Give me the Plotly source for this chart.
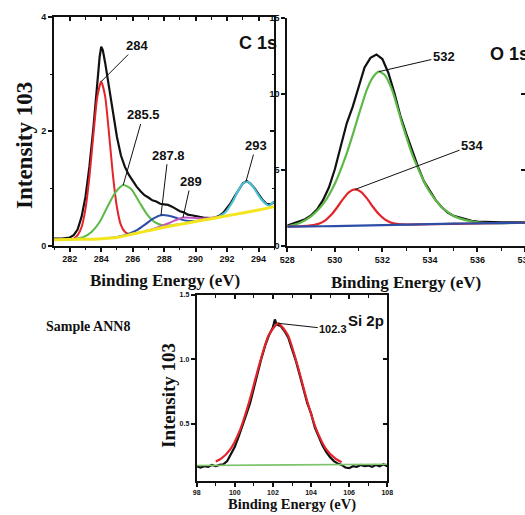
import plotly.graph_objects as go

# ---------------- C 1s ----------------
c1s_E = [281.0, 281.5, 282.0, 282.25, 282.5, 282.75, 283.0, 283.25, 283.5, 283.75, 283.9, 284.0, 284.1,
         284.25, 284.5, 284.75, 285.0, 285.25, 285.5, 285.75, 286.0, 286.25, 286.5, 286.75, 287.0,
         287.25, 287.5, 287.75, 288.0, 288.25, 288.5, 288.75, 289.0, 289.25, 289.5, 289.75, 290.0,
         290.25, 290.5, 290.75, 291.0, 291.25, 291.5, 291.75, 292.0, 292.25, 292.5, 292.75, 293.0,
         293.25, 293.5, 293.75, 294.0, 294.25, 294.5, 294.75, 295.0]
c1s_I = [0.12, 0.12, 0.14, 0.18, 0.28, 0.50, 0.85, 1.38, 2.05, 2.85, 3.30, 3.48, 3.42,
         3.20, 2.75, 2.30, 1.90, 1.58, 1.38, 1.24, 1.13, 1.03, 0.95, 0.88, 0.84,
         0.79, 0.77, 0.73, 0.72, 0.71, 0.68, 0.64, 0.60, 0.58, 0.54, 0.53, 0.51,
         0.50, 0.49, 0.48, 0.48, 0.49, 0.52, 0.57, 0.65, 0.75, 0.87, 0.99, 1.09,
         1.13, 1.08, 1.00, 0.90, 0.80, 0.73, 0.72, 0.76]

c1s_red_E = [281.5, 282.0, 282.25, 282.5, 282.75, 283.0, 283.25, 283.5, 283.75, 284.0, 284.25, 284.5,
             284.75, 285.0, 285.25, 285.5, 285.75, 286.0, 286.5]
c1s_red_I = [0.10, 0.11, 0.12, 0.18, 0.32, 0.64, 1.20, 1.93, 2.60, 2.87, 2.61, 1.95,
             1.22, 0.67, 0.36, 0.24, 0.20, 0.20, 0.23]

c1s_green_E = [282.0, 282.4, 282.9, 283.4, 283.9, 284.4, 284.9, 285.4, 285.9, 286.4, 286.9, 287.4,
               287.9, 288.4, 288.9]
c1s_green_I = [0.11, 0.12, 0.15, 0.24, 0.41, 0.68, 0.93, 1.06, 0.99, 0.77, 0.55, 0.41,
               0.355, 0.35, 0.37]

c1s_blue_E = [284.3, 284.8, 285.3, 285.8, 286.3, 286.8, 287.3, 287.8, 288.3, 288.8, 289.3, 289.8,
              290.3, 290.8]
c1s_blue_I = [0.125, 0.14, 0.165, 0.21, 0.275, 0.37, 0.47, 0.53, 0.52, 0.48, 0.44, 0.43,
              0.44, 0.46]

c1s_mag_E = [286.8, 287.2, 287.7, 288.2, 288.7, 289.2, 289.7, 290.2, 290.7, 291.2, 291.7]
c1s_mag_I = [0.25, 0.28, 0.33, 0.38, 0.44, 0.49, 0.485, 0.475, 0.475, 0.49, 0.51]

c1s_cyan_E = [291.45, 291.7, 291.95, 292.2, 292.45, 292.7, 292.95, 293.2, 293.45, 293.7, 293.95,
              294.2, 294.45, 294.7, 294.85, 294.95]
c1s_cyan_I = [0.50, 0.54, 0.60, 0.70, 0.82, 0.96, 1.07, 1.12, 1.09, 1.01, 0.90,
              0.80, 0.73, 0.70, 0.74, 0.77]

c1s_base_E = [281, 282, 283, 284, 285, 286, 287, 288, 289, 290, 291, 292, 293, 294, 295]
c1s_base_I = [0.10, 0.105, 0.11, 0.12, 0.14, 0.20, 0.26, 0.32, 0.37, 0.42, 0.47, 0.52, 0.57, 0.62, 0.68]

c1s_labels = ["284", "285.5", "287.8", "289", "293"]

# ---------------- O 1s ----------------
o1s_E = [528.0, 528.25, 528.5, 528.75, 529.0, 529.25, 529.5, 529.75, 530.0, 530.25, 530.5, 530.75,
         531.0, 531.25, 531.5, 531.75, 532.0, 532.25, 532.5, 532.75, 533.0, 533.25, 533.5, 533.75,
         534.0, 534.25, 534.5, 534.75, 535.0, 535.25, 535.5, 535.75, 536.0, 536.5, 537.0, 537.5, 538.0]
o1s_I = [1.35, 1.49, 1.58, 1.76, 2.02, 2.40, 3.02, 3.85, 5.05, 6.55, 8.07, 9.15,
         10.4, 11.75, 12.38, 12.6, 12.3, 11.4, 10.1, 8.6, 7.41, 6.25, 5.2, 4.25,
         3.6, 3.0, 2.55, 2.2, 1.98, 1.86, 1.78, 1.66, 1.60, 1.56, 1.55, 1.55, 1.55]

o1s_green_E = [528.0, 528.5, 529.0, 529.5, 530.0, 530.5, 530.77, 531.0, 531.34, 531.6, 531.85, 532.1,
               532.4, 532.87, 533.29, 533.86, 534.2, 534.55, 535.0, 535.5, 536.0, 536.5, 537.0, 538.0]
o1s_green_I = [1.30, 1.50, 1.95, 2.75, 4.10, 6.10, 7.41, 8.60, 10.26, 11.10, 11.47, 11.25,
               10.30, 7.85, 5.88, 3.90, 3.10, 2.48, 1.98, 1.70, 1.55, 1.50, 1.50, 1.53]

o1s_red_E = [528.0, 528.6, 528.85, 529.1, 529.35, 529.6, 529.85, 530.1, 530.35, 530.6, 530.85, 531.1,
             531.35, 531.6, 531.85, 532.1, 532.35, 532.6, 532.85, 533.1, 534.0, 536.0, 538.0]
o1s_red_I = [1.27, 1.30, 1.32, 1.37, 1.48, 1.69, 2.05, 2.55, 3.10, 3.55, 3.72, 3.56,
             3.13, 2.58, 2.10, 1.75, 1.55, 1.45, 1.42, 1.41, 1.43, 1.48, 1.53]

o1s_base_E = [528, 529, 530, 531, 532, 533, 534, 535, 536, 537, 538]
o1s_base_I = [1.27, 1.29, 1.31, 1.34, 1.37, 1.40, 1.44, 1.47, 1.49, 1.51, 1.53]

o1s_labels = ["532", "534"]

# ---------------- Si 2p ----------------
si_E = [98.0, 98.2, 98.4, 98.6, 98.8, 99.0, 99.2, 99.4, 99.6, 99.8, 100.0, 100.2, 100.4, 100.6,
        100.8, 101.0, 101.2, 101.4, 101.6, 101.8, 102.0, 102.1, 102.2, 102.4, 102.6, 102.8, 103.0,
        103.2, 103.4, 103.6, 103.8, 104.0, 104.2, 104.4, 104.6, 104.8, 105.0, 105.2, 105.4, 105.6,
        105.8, 106.0, 106.2, 106.4, 106.6, 106.8, 107.0, 107.2, 107.4, 107.6, 107.8, 108.0]
si_I = [0.17, 0.16, 0.17, 0.165, 0.18, 0.17, 0.18, 0.185, 0.21, 0.26, 0.32, 0.40, 0.48, 0.57,
        0.66, 0.78, 0.90, 1.01, 1.11, 1.19, 1.25, 1.31, 1.27, 1.26, 1.22, 1.17, 1.08,
        0.99, 0.88, 0.77, 0.66, 0.58, 0.47, 0.40, 0.33, 0.28, 0.24, 0.21, 0.19, 0.18,
        0.16, 0.155, 0.17, 0.165, 0.18, 0.17, 0.175, 0.165, 0.18, 0.17, 0.185, 0.17]

si_red_E = [99.0, 99.28, 99.78, 100.28, 100.78, 101.28, 101.78, 102.28, 102.78, 103.28, 103.78,
            104.28, 104.78, 105.28, 105.6]
si_red_I = [0.206, 0.228, 0.305, 0.454, 0.684, 0.958, 1.189, 1.28, 1.189, 0.958, 0.684,
            0.454, 0.305, 0.228, 0.20]

si_base_E = [98, 103, 108]
si_base_I = [0.175, 0.18, 0.185]

si_labels = ["102.3"]

# ---------------- styling ----------------
W, H = 525, 515
BLACK = "#111111"
TICKFONT = "Liberation Sans Narrow, Arial Narrow, Liberation Sans, Arial"
SERIF = "Liberation Serif, Times New Roman, serif"


def px_x(p):
    return p / W


def px_y(p):
    return 1 - p / H


fig = go.Figure()


def add_line(x, y, color, width, xa, ya, shape="spline"):
    fig.add_trace(go.Scatter(x=x, y=y, mode="lines", xaxis=xa, yaxis=ya,
                             line=dict(color=color, width=width, shape=shape,
                                       smoothing=0.6 if shape == "spline" else None),
                             hoverinfo="skip", showlegend=False))


# C1s traces
add_line(c1s_E, c1s_I, BLACK, 2.2, "x", "y", "linear")
add_line(c1s_red_E, c1s_red_I, "#e3242b", 2, "x", "y")
add_line(c1s_green_E, c1s_green_I, "#5cb946", 2, "x", "y")
add_line(c1s_blue_E, c1s_blue_I, "#2d4ea6", 2, "x", "y")
add_line(c1s_mag_E, c1s_mag_I, "#c157c3", 2, "x", "y")
add_line(c1s_cyan_E, c1s_cyan_I, "#4cc2d8", 2.2, "x", "y")
add_line(c1s_base_E, c1s_base_I, "#f2e51e", 3, "x", "y")

# O1s traces
add_line(o1s_E, o1s_I, BLACK, 2.2, "x2", "y2", "linear")
add_line(o1s_green_E, o1s_green_I, "#5cb946", 2.2, "x2", "y2")
add_line(o1s_red_E, o1s_red_I, "#e3242b", 2.2, "x2", "y2")
add_line(o1s_base_E, o1s_base_I, "#2d4ea6", 2.2, "x2", "y2")

# Si traces
add_line(si_E, si_I, BLACK, 2.2, "x3", "y3", "linear")
add_line(si_red_E, si_red_I, "#e3242b", 2.2, "x3", "y3")
add_line(si_base_E, si_base_I, "#7cc46a", 1.6, "x3", "y3")

# empty traces to instantiate mirror axes
for xa, ya in [("x4", "y"), ("x", "y4"), ("x2", "y5"), ("x6", "y3"), ("x3", "y6")]:
    fig.add_trace(go.Scatter(x=[], y=[], xaxis=xa, yaxis=ya, showlegend=False, hoverinfo="skip"))

C1S_X = [281, 295]
C1S_Y = [0, 4]
O1S_X = [528, 538]
O1S_Y = [0, 15]
SI_X = [98, 108]
SI_Y = [0.055, 1.5]

dom_c1s_x = [px_x(54), px_x(274.3)]
dom_c1s_y = [px_y(245.5), px_y(17)]
dom_o1s_x = [px_x(287.3), 1.0]
dom_o1s_y = [px_y(246), px_y(18)]
dom_si_x = [px_x(196.7), px_x(387.3)]
dom_si_y = [px_y(481), px_y(295)]


def xax(domain, rng, anchor, tick0, dtick, fs, **kw):
    d = dict(domain=domain, range=rng, anchor=anchor, showline=True, linecolor=BLACK, linewidth=2,
             ticks="outside", ticklen=4, tickwidth=1.5, tickcolor=BLACK, tick0=tick0, dtick=dtick,
             tickfont=dict(family=TICKFONT, size=fs, color=BLACK, weight="bold"),
             showgrid=False, zeroline=False, fixedrange=True, automargin=False,
             ticklabeloverflow="allow",
             minor=dict(ticks="outside", ticklen=2.5, tickwidth=1.2, tickcolor=BLACK, dtick=dtick / 2,
                        showgrid=False))
    d.update(kw)
    return d


layout = dict(
    template="none",
    width=W, height=H, margin=dict(l=0, r=0, t=0, b=0, pad=0), autosize=False,
    paper_bgcolor="white", plot_bgcolor="rgba(0,0,0,0)", showlegend=False,
    xaxis=xax(dom_c1s_x, C1S_X, "y", 282, 2, 9),
    yaxis=xax(dom_c1s_y, C1S_Y, "x", 0, 2, 9),
    xaxis2=xax(dom_o1s_x, O1S_X, "y2", 528, 2, 9),
    yaxis2=xax(dom_o1s_y, O1S_Y, "x2", 0, 5, 9, minor=dict(ticks="")),
    xaxis3=xax(dom_si_x, SI_X, "y3", 98, 2, 7),
    yaxis3=xax(dom_si_y, SI_Y, "x3", 0.5, 0.5, 7, minor=dict(ticks=""), tickformat=".1f"),
)


def mirror_ax(overlay, rng, anchor, side, tick0, dtick, minor=True):
    d = dict(overlaying=overlay, range=rng, anchor=anchor, side=side, showline=True,
             linecolor=BLACK, linewidth=2, ticks="inside", ticklen=4, tickwidth=1.5,
             tickcolor=BLACK, tick0=tick0, dtick=dtick, showticklabels=False, showgrid=False,
             zeroline=False, fixedrange=True, automargin=False)
    if minor:
        d["minor"] = dict(ticks="inside", ticklen=2.5, tickwidth=1.2, tickcolor=BLACK,
                          dtick=dtick / 2, showgrid=False)
    return d


layout["xaxis4"] = mirror_ax("x", C1S_X, "y", "top", 282, 2)
layout["yaxis4"] = mirror_ax("y", C1S_Y, "x", "right", 0, 2)
layout["yaxis5"] = mirror_ax("y2", O1S_Y, "x2", "right", 0, 5, minor=False)
layout["xaxis6"] = mirror_ax("x3", SI_X, "y3", "top", 98, 2)
layout["yaxis6"] = mirror_ax("y3", SI_Y, "x3", "right", 0.5, 0.5, minor=False)

fig.update_layout(**layout)

# ---------------- annotations ----------------
ann = []
LBL = dict(family="Liberation Sans Narrow, Arial Narrow, Liberation Sans, Arial", size=13,
           color=BLACK, weight="bold")


def peak_label(text, xs, ys, xa, ya, ax, ay, fs=13):
    # anchor at the component's maximum
    i = max(range(len(ys)), key=lambda k: ys[k])
    return dict(x=xs[i], y=ys[i], xref=xa, yref=ya, text=text, showarrow=True, arrowhead=0,
                arrowwidth=1, arrowcolor=BLACK, ax=ax, ay=ay, standoff=0,
                font=dict(LBL, size=fs))


def mag_peak(xs, ys, target):
    i = min(range(len(xs)), key=lambda k: abs(xs[k] - target))
    return [xs[i]], [ys[i]]


ann.append(peak_label(c1s_labels[0], c1s_red_E, c1s_red_I, "x", "y", 36, -36))
ann.append(peak_label(c1s_labels[1], c1s_green_E, c1s_green_I, "x", "y", 20, -70))
ann.append(peak_label(c1s_labels[2], c1s_blue_E, c1s_blue_I, "x", "y", 7, -60))
mx, my = mag_peak(c1s_mag_E, c1s_mag_I, 289.2)
ann.append(peak_label(c1s_labels[3], mx, my, "x", "y", 8, -36))
ann.append(peak_label(c1s_labels[4], c1s_cyan_E, c1s_cyan_I, "x", "y", 10, -36))

ann.append(peak_label(o1s_labels[0], o1s_green_E, o1s_green_I, "x2", "y2", 65, -15))
ann.append(peak_label(o1s_labels[1], o1s_red_E, o1s_red_I, "x2", "y2", 117, -44))

ann.append(peak_label(si_labels[0], si_red_E, si_red_I, "x3", "y3", 55, 6, fs=11))


def text(t, x, y, fam, size, angle=0):
    return dict(text=t, x=px_x(x), y=px_y(y), xref="paper", yref="paper", showarrow=False,
                xanchor="center", yanchor="middle", textangle=angle,
                font=dict(family=fam, size=size, color=BLACK, weight="bold"))


SANS = "Liberation Sans, Arial"
ann.append(text("C 1s", 258, 43, SANS, 18))
ann.append(text("O 1s", 509, 54, SANS, 18))
ann.append(text("Si 2p", 366, 320, SANS, 15))
ann.append(text("Intensity 103", 25, 146, SERIF, 23, -90))
ann.append(text("Binding Energy (eV)", 165, 280, SERIF, 17))
ann.append(text("Binding Energy (eV)", 406, 282, SERIF, 17))
ann.append(text("Intensity 103", 168, 396, SERIF, 19, -90))
ann.append(text("Binding Energy (eV)", 292, 504, SERIF, 14.5))
ann.append(text("Sample ANN8", 88, 326, SERIF, 14))

fig.update_layout(annotations=ann)

# remove the default page margin so the figure fills the 525x515 window exactly
fig.write_html("out.html", config={"displayModeBar": False},
               post_script="document.body.style.margin='0';document.body.style.overflow='hidden';")
